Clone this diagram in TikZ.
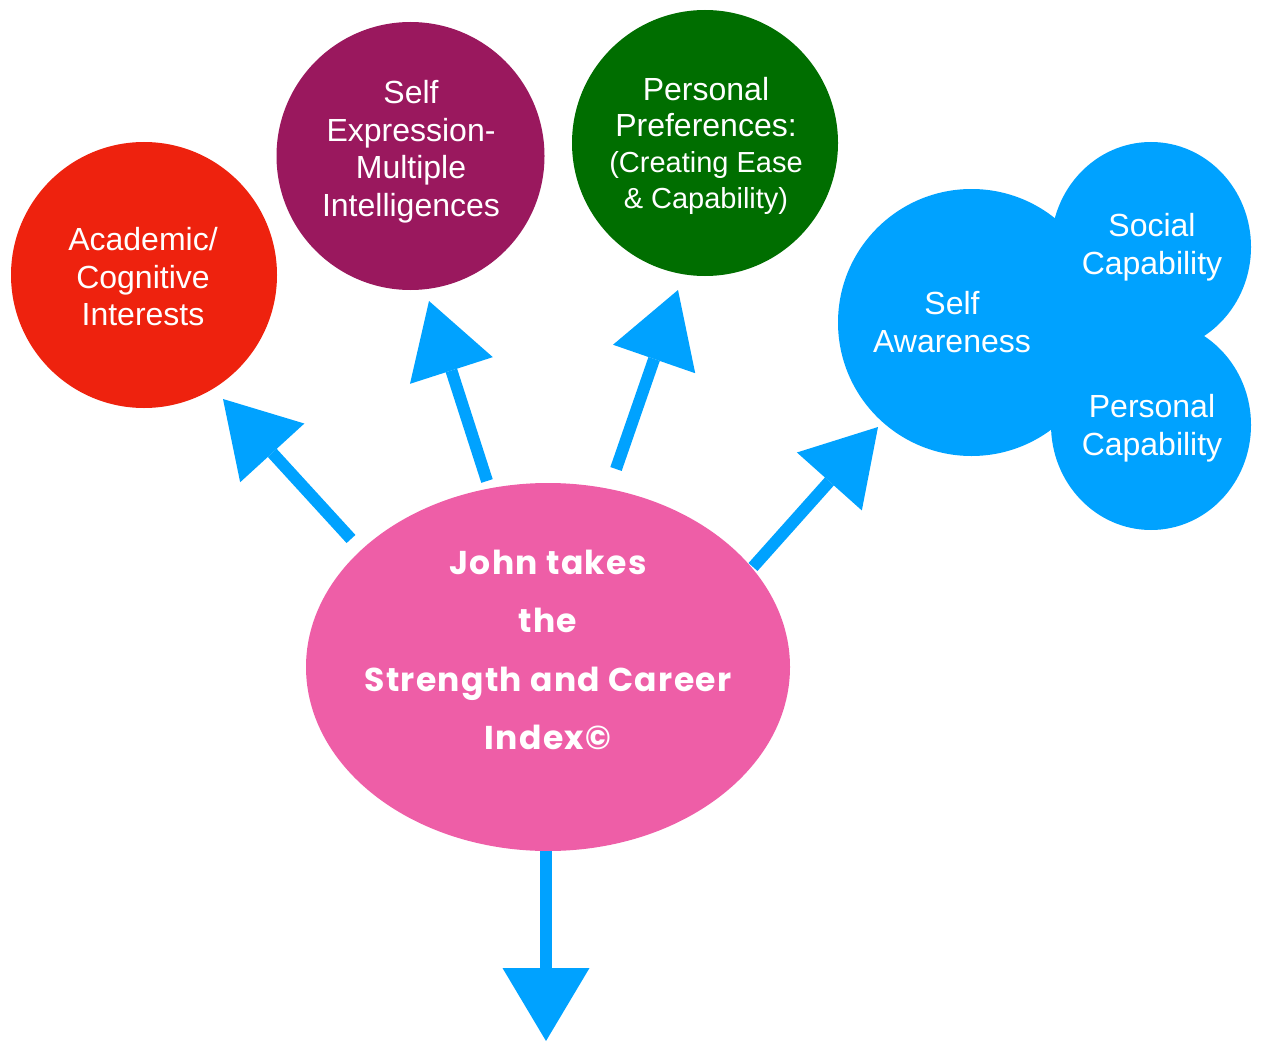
\documentclass[tikz,border=0pt]{standalone}
\usepackage{fontspec}
\setmainfont{Liberation Sans}
\newfontfamily\centerfont{Poppins}[LetterSpace=4]
\usetikzlibrary{arrows.meta,shapes.geometric}
\definecolor{cred}{RGB}{238,34,14}
\definecolor{cpurple}{RGB}{154,24,94}
\definecolor{cgreen}{RGB}{0,110,0}
\definecolor{cblue}{RGB}{0,162,255}
\definecolor{cpink}{RGB}{238,94,167}
\begin{document}
\begin{tikzpicture}[x=1pt,y=-1pt,
  bubble/.style={circle, inner sep=0pt, draw=none},
  oval/.style={ellipse, inner sep=0pt, draw=none},
  btext/.style={text=white, align=center, inner sep=0pt, font=\fontsize{32}{37.5}\selectfont},
  ctext/.style={text=white, align=center, inner sep=0pt, font=\centerfont\bfseries\fontsize{33}{58.5}\selectfont},
  arr/.style={draw=cblue, line width=12pt, -{Triangle[width=87pt,length=73pt,line width=0pt]}}]
\useasboundingbox (0,0) rectangle (1265,1043);
% circles
\node[bubble, fill=cred, minimum size=266pt] (acad) at (144,275) {};
\node[bubble, fill=cpurple, minimum size=268pt] (expr) at (410.5,156) {};
\node[bubble, fill=cgreen, minimum size=266pt] (pref) at (705,143) {};
\node[bubble, fill=cblue, minimum size=267pt] (aware) at (971.5,322.5) {};
\node[oval, fill=cblue, minimum width=200pt, minimum height=210pt] (social) at (1151,247) {};
\node[oval, fill=cblue, minimum width=200pt, minimum height=210pt] (personal) at (1151,425) {};
\node[oval, fill=cpink, minimum width=484pt, minimum height=368pt] (john) at (548,667) {};
% texts
\node[btext] (acad-t) at (143,277) {Academic/\\Cognitive\\Interests};
\node[btext] (expr-t) at (411,151.5) {Self\\Expression-\\Multiple\\Intelligences};
\node[btext, font=\fontsize{32}{36}\selectfont] (pref-t) at (706,146) {Personal\\Preferences:\\{\fontsize{29}{36}\selectfont(Creating Ease}\\{\fontsize{29}{36}\selectfont\& Capability)}};
\node[btext] (aware-t) at (952,322) {Self\\Awareness};
\node[btext] (social-t) at (1152,247) {Social\\Capability};
\node[btext] (personal-t) at (1152,428) {Personal\\Capability};
\node[ctext] (john-t) at (548,650) {John takes\\the\\Strength and Career\\Index\textcopyright};
% arrows
\coordinate (s1) at (351,539); \coordinate (t1) at (223,399);
\coordinate (s2) at (487,481); \coordinate (t2) at (429,301);
\coordinate (s3) at (616,469); \coordinate (t3) at (678,290);
\coordinate (s4) at (753,567); \coordinate (t4) at (878,427);
\coordinate (s5) at (546,851); \coordinate (t5) at (546,1041);
\draw[arr] (s1) -- (t1);
\draw[arr] (s2) -- (t2);
\draw[arr] (s3) -- (t3);
\draw[arr] (s4) -- (t4);
\draw[arr] (s5) -- (t5);
\end{tikzpicture}
\end{document}
